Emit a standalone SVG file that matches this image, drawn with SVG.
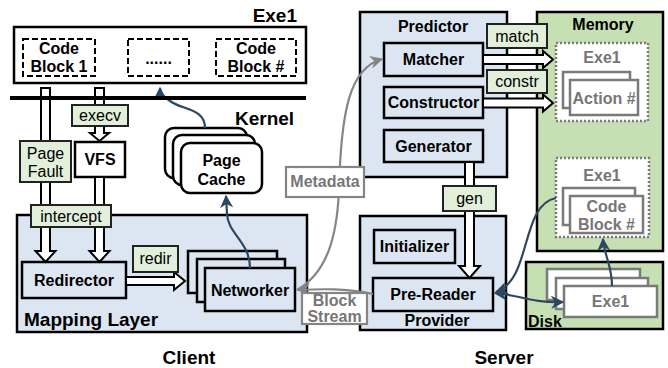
<svg xmlns="http://www.w3.org/2000/svg" width="668" height="368" viewBox="0 0 668 368">
<defs>
<style>
text{font-family:"Liberation Sans",Arial,sans-serif}
.b{font-weight:bold;font-size:16px;fill:#000}
.big{font-weight:bold;font-size:19px;fill:#000}
.g{font-weight:bold;font-size:16px;fill:#767676}
.lbl{font-size:16px;fill:#000}
.cont{fill:#dce6f2;stroke:#000;stroke-width:2.5}
.grn{fill:#c6e0b4;stroke:#000;stroke-width:2.5}
.nb{fill:#dce6f2;stroke:#000;stroke-width:2.5}
.lb{fill:#e2efda;stroke:#222;stroke-width:2}
.dash{fill:#fff;stroke:#000;stroke-width:2;stroke-dasharray:6,3}
.dot{fill:#fff;stroke:#7a7a7a;stroke-width:2.5;stroke-dasharray:2,2}
.gb{fill:#fff;stroke:#7a7a7a;stroke-width:2.5}
.wb{fill:#fff;stroke:#000;stroke-width:2.5}
.hol{fill:#fff;stroke:#000;stroke-width:2;stroke-linejoin:miter}
.dk{fill:none;stroke:#2e4761;stroke-width:2.2}
.gy{fill:none;stroke:#858585;stroke-width:2.2}
.gl{fill:#fff;stroke:#858585;stroke-width:2.2}
</style>
<marker id="ad" viewBox="0 0 10 10" refX="9" refY="5" markerWidth="6" markerHeight="6" orient="auto-start-reverse" markerUnits="strokeWidth">
<path d="M0,0 L10,5 L0,10 L3,5 z" fill="#2e4761"/>
</marker>
<marker id="ag" viewBox="0 0 10 10" refX="9" refY="5" markerWidth="6" markerHeight="6" orient="auto-start-reverse" markerUnits="strokeWidth">
<path d="M0,0 L10,5 L0,10 L3,5 z" fill="#858585"/>
</marker>
</defs>

<!-- containers -->
<g id="mapping-layer">
<rect class="cont" x="17" y="215" width="290" height="117"/>
<text class="big" x="24" y="326">Mapping Layer</text>
</g>
<g id="predictor">
<rect class="cont" x="360" y="12" width="147" height="165"/>
<text class="b" x="433" y="32" text-anchor="middle">Predictor</text>
</g>
<g id="provider">
<rect class="cont" x="360" y="216" width="146" height="114"/>
<text class="b" x="437" y="326" text-anchor="middle">Provider</text>
</g>
<g id="memory">
<rect class="grn" x="537" y="12" width="126" height="239"/>
<text class="b" x="603" y="30" text-anchor="middle">Memory</text>
</g>
<g id="disk">
<rect class="grn" x="526" y="262" width="137" height="67"/>
<text class="b" x="528" y="327">Disk</text>
</g>

<!-- Exe1 top -->
<g id="exe1-client">
<text class="big" x="297" y="22" text-anchor="end">Exe1</text>
<rect x="14" y="27" width="292" height="56" fill="#fff" stroke="#000" stroke-width="2.5"/>
<rect class="dash" x="23" y="39" width="72" height="37"/>
<text class="b" x="59" y="54" text-anchor="middle">Code</text>
<text class="b" x="59" y="72" text-anchor="middle">Block 1</text>
<rect class="dash" x="128" y="39" width="61" height="37"/>
<text class="b" x="158.5" y="64" text-anchor="middle" font-weight="normal">......</text>
<rect class="dash" x="216" y="39" width="80" height="37"/>
<text class="b" x="256" y="54" text-anchor="middle">Code</text>
<text class="b" x="256" y="72" text-anchor="middle">Block #</text>
</g>

<g id="kernel-label">
<text class="big" x="235" y="125">Kernel</text>
</g>

<!-- inner nodes -->
<g id="vfs">
<rect class="wb" x="75" y="142" width="50" height="35"/>
<text class="b" x="100" y="165" text-anchor="middle">VFS</text>
</g>
<g id="page-cache">
<rect class="wb" x="165" y="128" width="82" height="50" rx="9"/>
<rect class="wb" x="173" y="135" width="82" height="50" rx="9"/>
<rect class="wb" x="181" y="143" width="81" height="50" rx="9"/>
<text class="b" x="221.5" y="166" text-anchor="middle">Page</text>
<text class="b" x="221.5" y="185" text-anchor="middle">Cache</text>
</g>
<g id="redirector">
<rect class="nb" x="22" y="262" width="104" height="36"/>
<text class="b" x="74" y="286" text-anchor="middle">Redirector</text>
</g>
<g id="networker">
<rect class="nb" x="188" y="251" width="89" height="42"/>
<rect class="nb" x="197" y="259" width="88" height="43"/>
<rect class="nb" x="205" y="268" width="90" height="43"/>
<text class="b" x="250" y="296" text-anchor="middle">Networker</text>
</g>
<g id="matcher">
<rect class="nb" x="384" y="43" width="99" height="33"/>
<text class="b" x="433.5" y="65" text-anchor="middle">Matcher</text>
</g>
<g id="constructor">
<rect class="nb" x="384" y="87" width="99" height="31"/>
<text class="b" x="433.5" y="108" text-anchor="middle">Constructor</text>
</g>
<g id="generator">
<rect class="nb" x="384" y="130" width="99" height="32"/>
<text class="b" x="433.5" y="152" text-anchor="middle">Generator</text>
</g>
<g id="initializer">
<rect class="nb" x="374" y="230" width="81" height="33"/>
<text class="b" x="414.5" y="252" text-anchor="middle">Initializer</text>
</g>
<g id="pre-reader">
<rect class="nb" x="373" y="278" width="120" height="33"/>
<text class="b" x="433" y="300" text-anchor="middle">Pre-Reader</text>
</g>
<g id="memory-exe1-action">
<rect class="dot" x="556" y="43" width="92" height="78"/>
<text class="g" x="602" y="63" text-anchor="middle">Exe1</text>
<rect class="gb" x="563" y="72" width="67" height="36"/>
<rect class="gb" x="570" y="80" width="68" height="35"/>
<text class="g" x="604" y="104" text-anchor="middle">Action #</text>
</g>
<g id="memory-exe1-code">
<rect class="dot" x="556" y="158" width="93" height="79"/>
<text class="g" x="602" y="181" text-anchor="middle">Exe1</text>
<rect class="gb" x="563" y="188" width="72" height="37"/>
<rect class="gb" x="570" y="196" width="73" height="37"/>
<text class="g" x="606.5" y="212" text-anchor="middle">Code</text>
<text class="g" x="606.5" y="230" text-anchor="middle">Block #</text>
</g>
<g id="disk-exe1">
<rect class="gb" x="547" y="269" width="93" height="31"/>
<rect class="gb" x="556" y="278" width="92" height="31"/>
<rect class="gb" x="564" y="286" width="93" height="31"/>
<text class="g" x="610.5" y="307" text-anchor="middle">Exe1</text>
</g>

<!-- connectors -->
<g id="connectors">
<polygon class="hol" points="41,88 50,88 50,251 55.5,251 45.5,262 35.5,251 41,251"/>
<polygon class="hol" points="95,88 104,88 104,133 109,133 99.5,141 90,133 95,133"/>
<polygon class="hol" points="95,177 104,177 104,251 109.5,251 99.5,262 89.5,251 95,251"/>
<polygon class="hol" points="126,277 174,277 174,272 185,281 174,290 174,285 126,285"/>
<polygon class="hol" points="483,55 543,55 543,51 553,59.5 543,68 543,64 483,64"/>
<polygon class="hol" points="483,98.5 543,98.5 543,94.5 553,103 543,111.5 543,107.5 483,107.5"/>
<polygon class="hol" points="465,162 474,162 474,266 480,266 469.5,278 459,266 465,266"/>
<path class="dk" d="M250,268 C250,242 228,234 227,214 L226,196" marker-end="url(#ad)"/>
<path class="dk" d="M205,128 C205,108 182,110 170,101 C163,96 160,93 160,88" marker-end="url(#ad)"/>
<path class="gy" d="M297,290 C328,272 337,235 339,190 C341,110 350,68 382,59" marker-end="url(#ag)"/>
<path class="gy" d="M373,294 C345,288 320,289 298,290" marker-end="url(#ag)"/>
<path class="dk" d="M495,293 C520,295 530,303 563,302" marker-start="url(#ad)" marker-end="url(#ad)"/>
<path class="dk" d="M556,198 C520,205 532,280 496,292" marker-end="url(#ad)"/>
<path class="dk" d="M612,286 C612,265 604,255 603,239" marker-end="url(#ad)"/>
</g>

<!-- kernel line -->
<g id="kernel-line">
<line x1="10" y1="98" x2="306" y2="98" stroke="#000" stroke-width="4"/>
</g>

<!-- edge labels -->
<g id="label-execv">
<rect class="lb" x="72" y="105" width="56" height="21"/>
<text class="lbl" x="100" y="121" text-anchor="middle">execv</text>
</g>
<g id="label-page-fault">
<rect class="lb" x="20" y="141" width="51" height="41"/>
<text class="lbl" x="45.5" y="159" text-anchor="middle">Page</text>
<text class="lbl" x="45.5" y="177" text-anchor="middle">Fault</text>
</g>
<g id="label-intercept">
<rect class="lb" x="31" y="205" width="80" height="22"/>
<text class="lbl" x="71" y="222" text-anchor="middle">intercept</text>
</g>
<g id="label-redir">
<rect class="lb" x="133" y="246" width="45" height="26"/>
<text class="lbl" x="155.5" y="264" text-anchor="middle">redir</text>
</g>
<g id="label-match">
<rect class="lb" x="487" y="24" width="60" height="24"/>
<text class="lbl" x="517" y="42" text-anchor="middle">match</text>
</g>
<g id="label-constr">
<rect class="lb" x="487" y="70" width="60" height="23"/>
<text class="lbl" x="517" y="87" text-anchor="middle">constr</text>
</g>
<g id="label-gen">
<rect class="lb" x="443" y="186" width="53" height="25"/>
<text class="lbl" x="469.5" y="204" text-anchor="middle">gen</text>
</g>
<g id="label-metadata">
<rect class="gl" x="286" y="167" width="78" height="30"/>
<text class="g" x="325" y="187" text-anchor="middle" font-size="15">Metadata</text>
</g>
<g id="label-block-stream">
<rect class="gl" x="302" y="293" width="65" height="31"/>
<text class="g" x="334.5" y="306" text-anchor="middle" font-size="13">Block</text>
<text class="g" x="334.5" y="321.5" text-anchor="middle" font-size="13">Stream</text>
</g>

<g id="captions">
<text class="big" x="189" y="364" text-anchor="middle">Client</text>
<text class="big" x="504" y="364" text-anchor="middle">Server</text>
</g>
</svg>
